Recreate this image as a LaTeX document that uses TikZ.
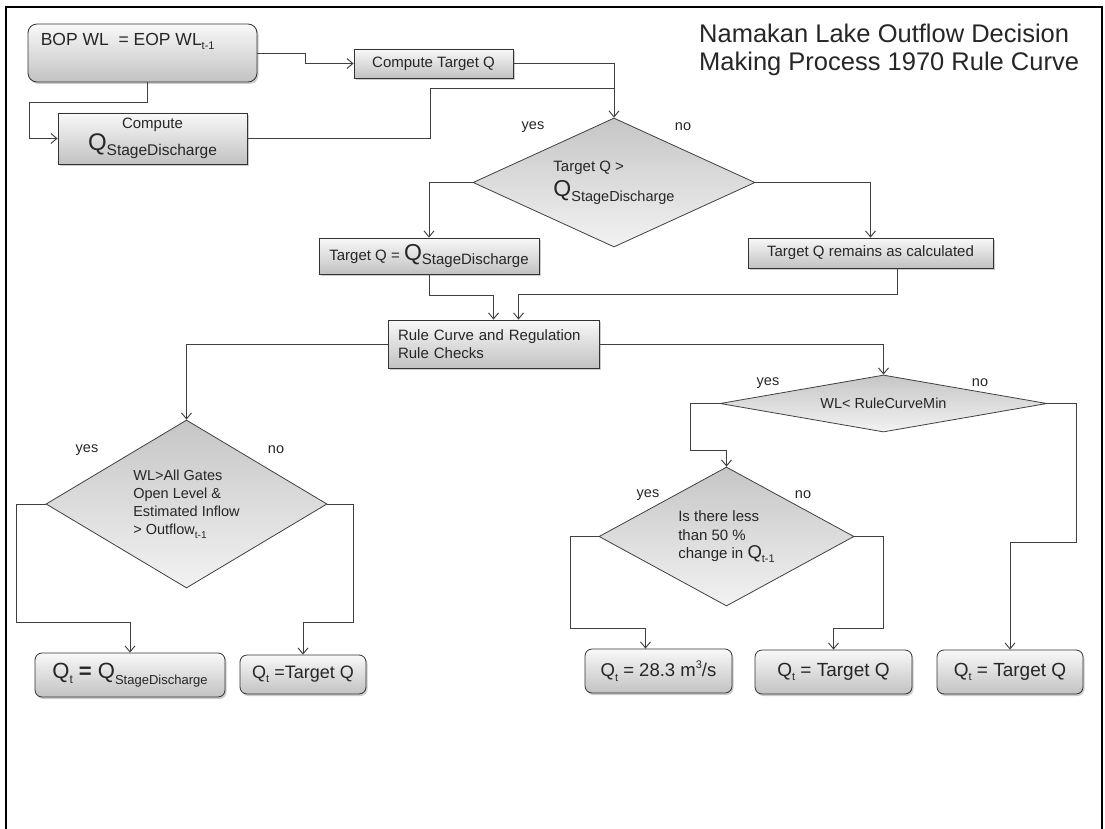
\documentclass[tikz,border=0pt]{standalone}
\usepackage{fontspec}
\setmainfont{Liberation Sans}
\usetikzlibrary{shapes.geometric,arrows.meta,shadows}
\newcommand{\fsz}[2]{\fontsize{#1}{#2}\selectfont}
\newcommand{\QSD}[2]{{\fsz{#1}{#1}Q}\raisebox{-0.3em}{\fsz{#2}{#2}StageDischarge}}
\newcommand{\lowtxt}[2]{\raisebox{-0.25em}{\fsz{#1}{#1}#2}}
\newcommand{\uptxt}[2]{\raisebox{0.45em}{\fsz{#1}{#1}#2}}
\begin{document}
\begin{tikzpicture}[x=1pt,y=-1pt,
 ln/.style={draw=black!75,line width=0.95pt},
 conn/.style={ln,-{Straight Barb[length=6pt,width=10pt]}},
 box/.style={draw=black!80,line width=0.8pt,top color=gray!5,bottom color=gray!48,drop shadow={shadow xshift=1.5pt,shadow yshift=-2pt,opacity=0.4},inner sep=0pt,font=\fsz{15}{18},text=black!85},
 rbox/.style={box,rounded corners=7pt},
 dec/.style={diamond,draw=black!75,line width=0.8pt,top color=gray!45,bottom color=gray!10,inner sep=0pt,font=\fsz{14.5}{18},align=left,text=black!85},
 lbl/.style={font=\fsz{14.5}{16},inner sep=0pt,text=black!85}]
\useasboundingbox (0,0) rectangle (1105,829);
\draw[line width=2.5pt] (6,829) -- (6,7) -- (1102,7) -- (1102,829);

\node[lbl,anchor=north west,align=left,font=\fsz{25.5}{27.5}] (title) at (699,24) {Namakan Lake Outflow Decision\\Making Process 1970 Rule Curve};

\node[rbox,minimum width=229,minimum height=58,rounded corners=9pt,
 label={[lbl,anchor=north west,font=\fsz{17.5}{19},xshift=13pt,yshift=-9pt]north west:BOP WL\ \ = EOP WL\lowtxt{11}{t-1}}] (A) at (142.5,53) {};
\node[box,minimum width=159,minimum height=29] (B) at (433.5,63.5) {Compute Target Q};
\node[box,minimum width=189,minimum height=51,align=center] (C) at (152.5,138.5) {Compute\\[1pt]\QSD{24}{15.5}};
\node[dec,minimum width=282,minimum height=129,shape aspect=2.2,font=\fsz{15}{18}] (D1) at (614,182.5) {Target Q >\\[5pt]\QSD{23}{14.5}};
\node[box,minimum width=220,minimum height=36] (E) at (429,256) {Target Q = \QSD{23}{15}};
\node[box,minimum width=245,minimum height=30] (F) at (870.5,253) {Target Q remains as calculated};
\node[box,minimum width=211,minimum height=48,text width=191pt,inner xsep=10pt,align=left] (G) at (493.5,344) {Rule Curve and Regulation\\Rule Checks};
\node[dec,minimum width=281,minimum height=168,shape aspect=1.67] (D2) at (186.5,504) {WL>All Gates\\Open Level \&\\Estimated Inflow\\> Outflow\lowtxt{10}{t-1}};
\node[dec,minimum width=327,minimum height=57,shape aspect=5.7] (D3) at (883.5,403.5) {WL< RuleCurveMin};
\node[dec,minimum width=255,minimum height=139,shape aspect=1.83,font=\fsz{15}{18.5}] (D4) at (726.5,536.5) {Is there less\\than 50 \%\\change in {\fsz{18.5}{18}Q}\lowtxt{11}{t-1}};

\node[rbox,minimum width=190,minimum height=44,font=\fsz{22}{22}] (H) at (130,675) {Q\lowtxt{12}{t} \textbf{=} \QSD{22}{13}};
\node[rbox,minimum width=126,minimum height=39,font=\fsz{18}{18}] (I) at (303,674.5) {Q\lowtxt{11}{t} =Target Q};
\node[rbox,minimum width=147,minimum height=44,font=\fsz{18.5}{18}] (J) at (658.5,671) {Q\lowtxt{11}{t} = 28.3 m\uptxt{11}{3}/s};
\node[rbox,minimum width=157,minimum height=44,font=\fsz{19}{18}] (K) at (833.5,672) {Q\lowtxt{11}{t} = Target Q};
\node[rbox,minimum width=146,minimum height=44,font=\fsz{19}{18}] (L) at (1010,672) {Q\lowtxt{11}{t} = Target Q};

\node[lbl] (y1) at (533,127) {yes};
\node[lbl] (n1) at (683,127) {no};
\node[lbl] (y2) at (87,450) {yes};
\node[lbl] (n2) at (276,450) {no};
\node[lbl] (y3) at (768,383) {yes};
\node[lbl] (n3) at (980,383) {no};
\node[lbl] (y4) at (648,495) {yes};
\node[lbl] (n4) at (803,495) {no};

\coordinate (j1) at (614,88);
\draw[conn] (A.east) -- ++(48,0) |- (B.west);
\draw[conn] ([xshift=4.5pt]A.south) -- ++(0,20) -| ([xshift=-28pt]C.west) -- (C.west);
\draw[conn] (B.east) -| (D1.north);
\draw[ln] (C.east) -- ++(183,0) |- (j1);
\draw[conn] (D1.west) -| (E.north);
\draw[conn] (D1.east) -| (F.north);
\draw[conn] (E.south) -- ++(0,21) -| (G.north);
\draw[conn] ([xshift=27pt]F.south) -- ++(0,26) -| ([xshift=25pt]G.north);
\draw[conn] (G.west) -| (D2.north);
\draw[conn] (G.east) -| (D3.north);
\draw[conn] (D2.west) -- ++(-29,0) -- ++(0,118) -| (H.north);
\draw[conn] (D2.east) -- ++(26,0) -- ++(0,118) -| (I.north);
\draw[conn] (D3.west) -- ++(-29,0) -- ++(0,47) -| (D4.north);
\draw[conn] (D3.east) -- ++(29,0) -- ++(0,139) -| (L.north);
\draw[conn] (D4.west) -- ++(-28,0) -- ++(0,92) -| ([xshift=-13pt]J.north);
\draw[conn] (D4.east) -- ++(29,0) -- ++(0,92) -| (K.north);
\end{tikzpicture}
\end{document}
